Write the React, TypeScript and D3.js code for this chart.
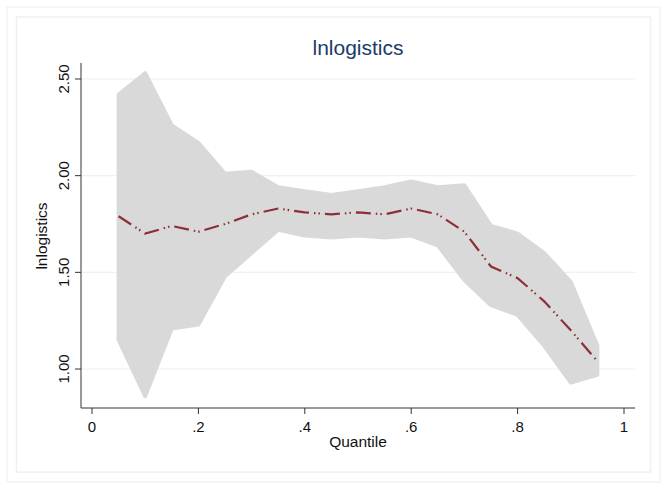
import * as d3 from 'd3';
import React, { useEffect, useRef } from 'react';

// quantile grid and estimates
const quantiles = [0.05, 0.1, 0.15, 0.2, 0.25, 0.3, 0.35, 0.4, 0.45, 0.5, 0.55, 0.6, 0.65, 0.7, 0.75, 0.8, 0.85, 0.9, 0.95];
const coef = [1.79, 1.7, 1.74, 1.71, 1.75, 1.8, 1.83, 1.81, 1.8, 1.81, 1.8, 1.83, 1.8, 1.71, 1.53, 1.47, 1.35, 1.2, 1.04];
const upper = [2.42, 2.53, 2.26, 2.17, 2.01, 2.02, 1.94, 1.92, 1.9, 1.92, 1.94, 1.97, 1.94, 1.95, 1.74, 1.7, 1.6, 1.45, 1.12];
const lower = [1.15, 0.86, 1.21, 1.23, 1.48, 1.6, 1.72, 1.69, 1.68, 1.69, 1.68, 1.69, 1.64, 1.46, 1.33, 1.28, 1.12, 0.93, 0.97];

const xTicks = [0, 0.2, 0.4, 0.6, 0.8, 1];
const xTickLabels = ['0', '.2', '.4', '.6', '.8', '1'];
const yTicks = [1, 1.5, 2, 2.5];

const width = 669;
const height = 490;
const font = 'Liberation Sans, Arial, sans-serif';

const App: React.FC = () => {
  const ref = useRef<SVGSVGElement>(null);

  useEffect(() => {
    if (!ref.current) {
      return;
    }
    const svg = d3.select(ref.current);
    svg.selectAll('*').remove();

    const x = d3.scaleLinear().domain([0, 1]).range([92, 624]);
    const y = d3.scaleLinear().domain([1, 2.5]).range([369, 79]);
    const left = 81;
    const right = 635;
    const bottom = 408;
    const top = 63;

    // faint frames
    svg.append('rect').attr('x', 7).attr('y', 7).attr('width', 653).attr('height', 475)
      .attr('fill', 'none').attr('stroke', '#f3f3f3').attr('stroke-width', 1.5);
    svg.append('rect').attr('x', 16.5).attr('y', 17).attr('width', 634).attr('height', 455)
      .attr('fill', 'none').attr('stroke', '#f0f0f0').attr('stroke-width', 1.5);

    // grid
    svg.append('g')
      .selectAll('line')
      .data(yTicks)
      .join('line')
      .attr('x1', left)
      .attr('x2', right)
      .attr('y1', (d) => y(d))
      .attr('y2', (d) => y(d))
      .attr('stroke', '#eaf2f3')
      .attr('stroke-width', 1.2);

    const idx = d3.range(quantiles.length);

    const band = d3.area<number>()
      .x((i) => x(quantiles[i]))
      .y0((i) => y(lower[i]))
      .y1((i) => y(upper[i]));
    svg.append('path')
      .attr('d', band(idx))
      .attr('fill', '#d9d9d9')
      .attr('stroke', '#d9d9d9')
      .attr('stroke-width', 4)
      .attr('stroke-linejoin', 'round');

    const line = d3.line<number>()
      .x((i) => x(quantiles[i]))
      .y((i) => y(coef[i]));
    svg.append('path')
      .attr('d', line(idx))
      .attr('fill', 'none')
      .attr('stroke', '#8c2f36')
      .attr('stroke-width', 2.2)
      .attr('stroke-dasharray', '15 5 1.5 3 1.5 5');

    // axes
    svg.append('line').attr('x1', left).attr('x2', left).attr('y1', top).attr('y2', bottom)
      .attr('stroke', '#333').attr('stroke-width', 1);
    svg.append('line').attr('x1', left).attr('x2', right).attr('y1', bottom).attr('y2', bottom)
      .attr('stroke', '#333').attr('stroke-width', 1);

    const yg = svg.append('g');
    yg.selectAll('line')
      .data(yTicks)
      .join('line')
      .attr('x1', left - 6)
      .attr('x2', left)
      .attr('y1', (d) => y(d))
      .attr('y2', (d) => y(d))
      .attr('stroke', '#333');
    yg.selectAll('text')
      .data(yTicks)
      .join('text')
      .attr('transform', (d) => `translate(${left - 12},${y(d)}) rotate(-90)`)
      .attr('text-anchor', 'middle')
      .attr('font-family', font)
      .attr('font-size', 15)
      .attr('fill', '#111')
      .text((d) => d3.format('.2f')(d));

    const xg = svg.append('g');
    xg.selectAll('line')
      .data(xTicks)
      .join('line')
      .attr('x1', (d) => x(d))
      .attr('x2', (d) => x(d))
      .attr('y1', bottom)
      .attr('y2', bottom + 6)
      .attr('stroke', '#333');
    xg.selectAll('text')
      .data(xTicks)
      .join('text')
      .attr('x', (d) => x(d))
      .attr('y', bottom + 24)
      .attr('text-anchor', 'middle')
      .attr('font-family', font)
      .attr('font-size', 15)
      .attr('fill', '#111')
      .text((_, i) => xTickLabels[i]);

    svg.append('text')
      .attr('x', 358)
      .attr('y', 447)
      .attr('text-anchor', 'middle')
      .attr('font-family', font)
      .attr('font-size', 15.5)
      .attr('fill', '#111')
      .text('Quantile');

    svg.append('text')
      .attr('transform', `translate(47,236) rotate(-90)`)
      .attr('text-anchor', 'middle')
      .attr('font-family', font)
      .attr('font-size', 15.5)
      .attr('fill', '#111')
      .text('lnlogistics');

    svg.append('text')
      .attr('x', 358)
      .attr('y', 55)
      .attr('text-anchor', 'middle')
      .attr('font-family', font)
      .attr('font-size', 21)
      .attr('fill', '#1a3b6b')
      .text('lnlogistics');
  }, []);

  return (
    <div style={{ position: 'absolute', left: 0, top: 0 }}>
      <svg ref={ref} width={width} height={height} viewBox={`0 0 ${width} ${height}`} style={{ display: 'block', background: '#fff' }}></svg>
    </div>
  );
};

export default App;
